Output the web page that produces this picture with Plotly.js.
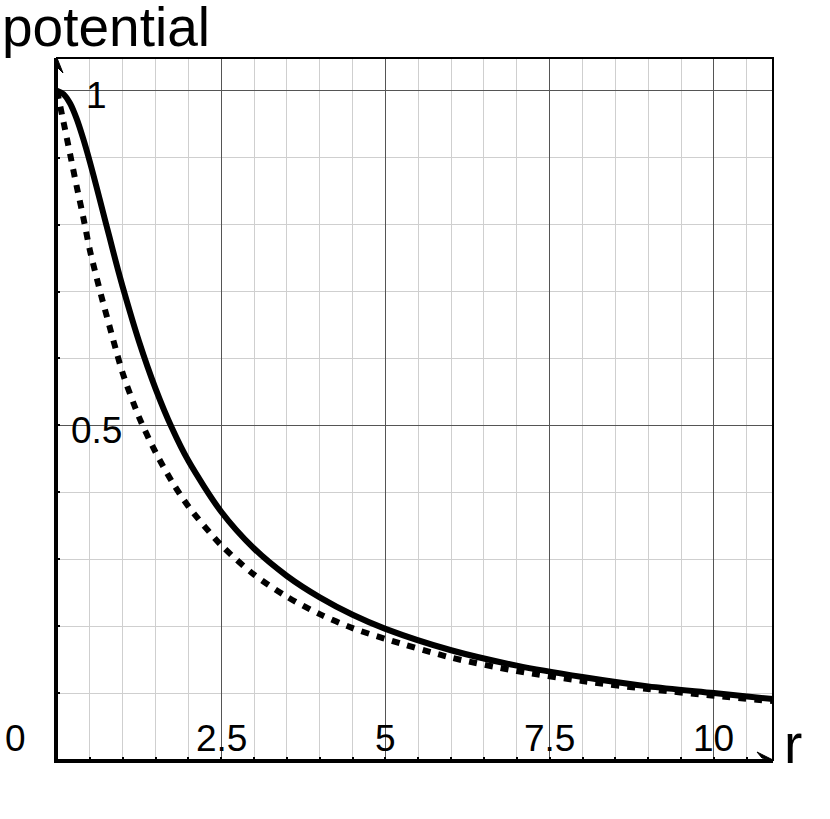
<!DOCTYPE html>
<html>
<head>
<meta charset="utf-8">
<script src="https://cdn.plot.ly/plotly-3.0.1.min.js"></script>
<style>html,body{margin:0;padding:0;background:#fff;}#chart{width:830px;height:819px;}</style>
</head>
<body>
<div id="chart"></div>
<script>
// values
var r = [0, 0.1, 0.2, 0.3, 0.4, 0.5, 0.6, 0.7, 0.8, 0.9, 1, 1.25, 1.5, 1.75, 2, 2.5, 3, 3.5, 4, 4.5, 5, 6, 7, 8, 9, 10, 10.9];
var solidPotential = [1.000, 0.995, 0.981, 0.958, 0.928, 0.894, 0.857, 0.819, 0.781, 0.743, 0.707, 0.625, 0.555, 0.496, 0.447, 0.371, 0.316, 0.275, 0.243, 0.217, 0.196, 0.164, 0.141, 0.124, 0.110, 0.100, 0.091];
var dottedPotential = [1.000, 0.953, 0.905, 0.857, 0.811, 0.762, 0.722, 0.684, 0.648, 0.612, 0.578, 0.512, 0.460, 0.416, 0.379, 0.321, 0.277, 0.244, 0.218, 0.197, 0.181, 0.153, 0.133, 0.118, 0.106, 0.096, 0.088];
var xTickVals = [2.5, 5, 7.5, 10];
var xTickText = ["2.5", "5", "7.5", "10"];
var yTickVals = [0.5, 1];
var yTickText = ["0.5", "1"];
var originLabel = "0";
var xTitle = "r";
var yTitle = "potential";

var FONT = "Liberation Sans, Arial, Helvetica, sans-serif";

var traces = [
  {x: r, y: dottedPotential, mode: "lines", line: {color: "#000", width: 6, dash: "8px,8px", shape: "spline", smoothing: 0.8}, hoverinfo: "skip"},
  {x: r, y: solidPotential, mode: "lines", line: {color: "#000", width: 6, shape: "spline", smoothing: 0.8}, hoverinfo: "skip"}
];

var annotations = [];
xTickVals.forEach(function (v, i) {
  annotations.push({x: v, y: 0, xref: "x", yref: "y", text: xTickText[i], showarrow: false,
    xanchor: "center", yanchor: "middle", yshift: 22, font: {family: FONT, size: 37, color: "#000"}});
});
yTickVals.forEach(function (v, i) {
  annotations.push({x: 0, y: v, xref: "x", yref: "y", text: yTickText[i], showarrow: false,
    xanchor: "center", yanchor: "middle", xshift: 39.5, yshift: -5, font: {family: FONT, size: 37, color: "#000"}});
});
annotations.push({x: 0, y: 0, xref: "x", yref: "y", text: originLabel, showarrow: false,
  xanchor: "center", yanchor: "middle", xshift: -41.5, yshift: 22, font: {family: FONT, size: 37, color: "#000"}});
annotations.push({x: 1, y: 0, xref: "paper", yref: "y", text: xTitle, showarrow: false,
  xanchor: "center", yanchor: "middle", xshift: 20, yshift: 16, font: {family: FONT, size: 55, color: "#000"}});
annotations.push({x: 0, y: 1, xref: "paper", yref: "paper", text: yTitle, showarrow: false,
  xanchor: "left", yanchor: "middle", xshift: -56, yshift: 31, borderpad: 0, font: {family: FONT, size: 55, color: "#000"}});

var layout = {
  width: 830, height: 819,
  margin: {l: 57, r: 57, t: 58, b: 59, pad: 0},
  paper_bgcolor: "#fff", plot_bgcolor: "#fff",
  showlegend: false,
  xaxis: {
    range: [0, 10.9], tickmode: "linear", tick0: 0, dtick: 2.5,
    showticklabels: false, showgrid: true, gridcolor: "#555", gridwidth: 1,
    zeroline: false, showline: true, linecolor: "#000", linewidth: 3,
    ticks: "inside", ticklen: 3, tickwidth: 2, tickcolor: "#000",
    minor: {tick0: 0, dtick: 0.5, showgrid: true, gridcolor: "#cfcfcf", gridwidth: 1, ticks: "inside", ticklen: 3, tickwidth: 2, tickcolor: "#000"},
    fixedrange: true
  },
  yaxis: {
    range: [0, 1.049], tickmode: "linear", tick0: 0, dtick: 0.5,
    showticklabels: false, showgrid: true, gridcolor: "#555", gridwidth: 1,
    zeroline: false, showline: true, linecolor: "#000", linewidth: 3,
    ticks: "inside", ticklen: 3, tickwidth: 2, tickcolor: "#000",
    minor: {tick0: 0, dtick: 0.1, showgrid: true, gridcolor: "#cfcfcf", gridwidth: 1, ticks: "inside", ticklen: 3, tickwidth: 2, tickcolor: "#000"},
    fixedrange: true
  },
  shapes: [
    {type: "rect", xref: "paper", yref: "paper", x0: 0, x1: 1, y0: 0, y1: 1, line: {color: "#000", width: 2}, layer: "above"},
    {type: "path", xref: "x", yref: "y", xsizemode: "pixel", ysizemode: "pixel", xanchor: 0, yanchor: 1.049,
      path: "M0,0 L6,-15 L1,-10 Z", fillcolor: "#000", line: {color: "#000", width: 1}, layer: "above"},
    {type: "path", xref: "x", yref: "y", xsizemode: "pixel", ysizemode: "pixel", xanchor: 10.9, yanchor: 0,
      path: "M0,0 L-16,8 L-11,2 Z", fillcolor: "#000", line: {color: "#000", width: 1}, layer: "above"}
  ],
  annotations: annotations
};

Plotly.newPlot("chart", traces, layout, {staticPlot: true, displayModeBar: false});
</script>
</body>
</html>
